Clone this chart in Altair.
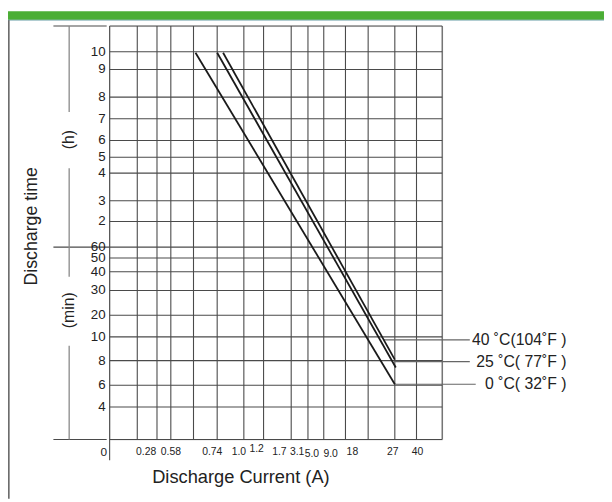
import altair as alt
import pandas as pd

# ---- schematic axis positions (percent of grid width / height) ----
x_grid = [8.31, 14.24, 18.40, 25.22, 32.34, 40.36, 46.29, 54.60, 59.64,
          64.39, 70.92, 77.74, 85.76, 92.28]
y_grid = [93.79, 89.50, 82.82, 77.57, 72.32, 68.26, 64.44, 57.76, 52.74,
          46.54, 43.91, 40.57, 36.04, 30.07, 24.82, 19.09, 13.13, 7.88]
y_labels = ["10", "9", "8", "7", "6", "5", "4", "3", "2",
            "60", "50", "40", "30", "20", "10", "8", "6", "4"]

x_labels = ["0.28", "0.58", "0.74", "1.0", "1.2", "1.7", "3.1", "5.0",
            "9.0", "18", "27", "40"]
x_label_pos = [10.98, 18.40, 30.86, 38.87, 44.21, 51.04, 56.38, 60.83,
               66.47, 73.00, 85.17, 92.58]
x_label_y = [-3.10, -3.10, -3.10, -3.10, -2.39, -3.10, -3.10, -3.58,
             -3.58, -3.10, -3.10, -3.10]

# discharge curves (start / end in schematic units)
series = ["0 ˚C( 32˚F )", "25 ˚C( 77˚F )", "40 ˚C(104˚F )"]
curve_x0 = [25.82, 32.34, 34.12]
curve_y0 = [93.56, 93.56, 93.56]
curve_x1 = [85.76, 86.05, 85.76]
curve_y1 = [13.37, 17.42, 19.33]

# leader lines to the temperature labels
leader_x0 = [85.76, 85.76, 82.49]
leader_x1 = [110.09, 108.31, 108.31]
leader_y = [13.37, 18.85, 24.11]
label_right = 137.39

xs = alt.Scale(domain=[0, 100], nice=False, zero=False)
ys = alt.Scale(domain=[0, 100], nice=False, zero=False)

GRID = "#4a4a4a"
FONT = "Liberation Sans"
TXT = "#222222"

h_rows = [dict(x=0, x2=100, y=v) for v in y_grid]
h_rows += [dict(x=0, x2=100, y=0), dict(x=0, x2=100, y=100)]
h_rows += [dict(x=-16.91, x2=-0.89, y=0), dict(x=-16.91, x2=-0.89, y=100),
           dict(x=-16.91, x2=0, y=46.54)]
v_rows = [dict(x=v, y=0, y2=100) for v in x_grid]
v_rows += [dict(x=0, y=-5.01, y2=100), dict(x=100, y=0, y2=100)]
bracket_rows = [dict(x=-12.17, y=100, y2=79.24), dict(x=-12.17, y=65.63, y2=39.38),
                dict(x=-12.17, y=22.67, y2=0)]

hdf = pd.DataFrame(h_rows)
vdf = pd.DataFrame(v_rows)
bdf = pd.DataFrame(bracket_rows)


def X(f="x"):
    return alt.X(f + ":Q", scale=xs, axis=None)


def Y(f="y"):
    return alt.Y(f + ":Q", scale=ys, axis=None)


hlines = alt.Chart(hdf).mark_rule(color=GRID, strokeWidth=1.1).encode(
    x=X(), x2="x2:Q", y=Y())
vlines = alt.Chart(vdf).mark_rule(color=GRID, strokeWidth=1.1).encode(
    x=X(), y=Y(), y2="y2:Q")
brackets = alt.Chart(bdf).mark_rule(color="#888888", strokeWidth=1.3).encode(
    x=X(), y=Y(), y2="y2:Q")

curve_rows = []
for s, a, b, c, d in zip(series, curve_x0, curve_y0, curve_x1, curve_y1):
    curve_rows.append(dict(series=s, x=a, y=b, o=0))
    curve_rows.append(dict(series=s, x=c, y=d, o=1))
cdf = pd.DataFrame(curve_rows)
curves = alt.Chart(cdf).mark_line(color="#1a1a1a", strokeWidth=1.8).encode(
    x=X(), y=Y(), detail="series:N", order="o:Q")

ldf = pd.DataFrame(dict(series=series, x=leader_x0, x2=leader_x1, y=leader_y,
                        xr=[label_right] * 3))
leaders = alt.Chart(ldf).mark_rule(color="#666666", strokeWidth=1.1).encode(
    x=X(), x2="x2:Q", y=Y())
temp_labels = alt.Chart(ldf).mark_text(
    align="right", baseline="middle", font=FONT, fontSize=16, color=TXT
).encode(x=X("xr"), y=Y(), text="series:N")

ylab_df = pd.DataFrame(dict(t=y_labels, y=y_grid, x=[-1.19] * len(y_grid)))
ylabs = alt.Chart(ylab_df).mark_text(
    align="right", baseline="middle", font=FONT, fontSize=13.5, color=TXT
).encode(x=X(), y=Y(), text="t:N")

xlab_df = pd.DataFrame(dict(t=x_labels, x=x_label_pos, y=x_label_y))
xlabs = alt.Chart(xlab_df).mark_text(
    align="center", baseline="middle", font=FONT, fontSize=10.5, color=TXT
).encode(x=X(), y=Y(), text="t:N")

misc_df = pd.DataFrame(dict(
    t=["0", "Discharge Current (A)", "Discharge time", "(h)", "(min)"],
    x=[-1.78, 39.47, -23.44, -12.17, -12.17],
    y=[-3.10, -9.07, 51.55, 72.55, 31.26],
    size=[12, 18.5, 18, 16, 16],
))
misc0 = alt.Chart(misc_df.iloc[:2]).mark_text(
    align="center", baseline="middle", font=FONT, color=TXT
).encode(x=X(), y=Y(), text="t:N", size=alt.Size("size:Q", scale=None, legend=None))
misc1 = alt.Chart(misc_df.iloc[2:]).mark_text(
    align="center", baseline="middle", font=FONT, color=TXT, angle=270
).encode(x=X(), y=Y(), text="t:N", size=alt.Size("size:Q", scale=None, legend=None))

# header band and frame line
head_df = pd.DataFrame(dict(x=[-30.56], x2=[148.66], y=[103.58], y2=[101.43]))
header = alt.Chart(head_df).mark_rect(color="#4bae35").encode(
    x=X(), x2="x2:Q", y=Y(), y2="y2:Q")
head_line = alt.Chart(head_df).mark_rule(color="#9fbcd4", strokeWidth=1).encode(
    x=X(), x2="x2:Q", y=Y("y2"))
frame_df = pd.DataFrame(dict(x=[-30.30], y=[101.43], y2=[-14.32]))
frame = alt.Chart(frame_df).mark_rule(color="#333333", strokeWidth=1.2).encode(
    x=X(), y=Y(), y2="y2:Q")

chart = alt.layer(
    header, head_line, frame, hlines, vlines, brackets, leaders, curves,
    temp_labels, ylabs, xlabs, misc0, misc1
).properties(
    width=337, height=419,
    padding={"left": 103, "top": 15, "right": 164, "bottom": 60},
    autosize=alt.AutoSizeParams(type="none"),
).configure_view(stroke=None).configure(background="white")

chart.save("out.html", embed_options={"renderer": "svg", "actions": False})
